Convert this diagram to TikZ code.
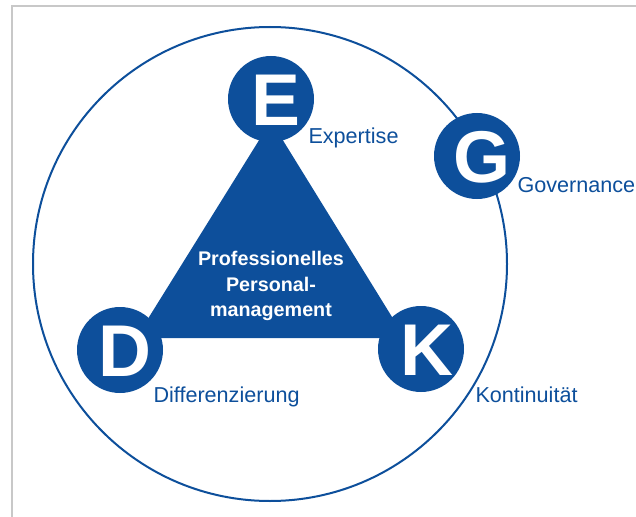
\documentclass[tikz,border=0pt]{standalone}
\usepackage{fontspec}
\setmainfont{Liberation Sans}
\definecolor{pmblue}{RGB}{13,79,155}
\definecolor{framegray}{RGB}{200,200,200}

\tikzset{every picture/.style={line width=0.75pt}}
\tikzset{
  dot/.style={circle, fill=pmblue, inner sep=0pt, minimum size=64.5pt},
  letter/.style={text=white, inner sep=0pt, font=\bfseries\fontsize{55}{55}\selectfont},
  termtext/.style={text=pmblue, inner sep=0pt, anchor=base west, font=\fontsize{16.2}{19}\selectfont}
}

\begin{document}
\begin{tikzpicture}[x=0.75pt,y=0.75pt,yscale=-1,xscale=1]
\useasboundingbox (0,0) rectangle (636,517);

%Straight Lines: frame
\draw [color=framegray, line width=1.5] (12,517) -- (12,6) -- (636,6) ;
%Shape: Circle
\draw [color=pmblue, line width=1.5] (270,264) circle [radius=237] ;
%Shape: Triangle
\fill [pmblue] (271,121) -- (136,338) -- (405,338) -- cycle ;

%Shape: Circles
\node [dot] (E) at (271,99) {};
\node [dot] (D) at (120,350) {};
\node [dot] (K) at (421,349) {};
\node [dot] (G) at (477,156) {};

% Letter Nodes
\node [letter] (Eletter) at (276,100) {E};
\node [letter] (Dletter) at (125,351) {D};
\node [letter] (Kletter) at (427,350) {K};
\node [letter] (Gletter) at (482,157) {G};

% Text Node
\node [text=white, align=center, inner sep=0pt, font=\bfseries\fontsize{14.8}{19.1}\selectfont] (core) at (271,286) {Professionelles\\Personal-\\management};
% Text Node
\node [termtext] (expertise) at (308,143) {Expertise};
% Text Node
\node [termtext] (governance) at (517,192) {Governance};
% Text Node
\node [termtext] (kontinuitaet) at (475,402) {Kontinuität};
% Text Node
\node [termtext] (differenzierung) at (153,402) {Differenzierung};

\end{tikzpicture}
\end{document}
